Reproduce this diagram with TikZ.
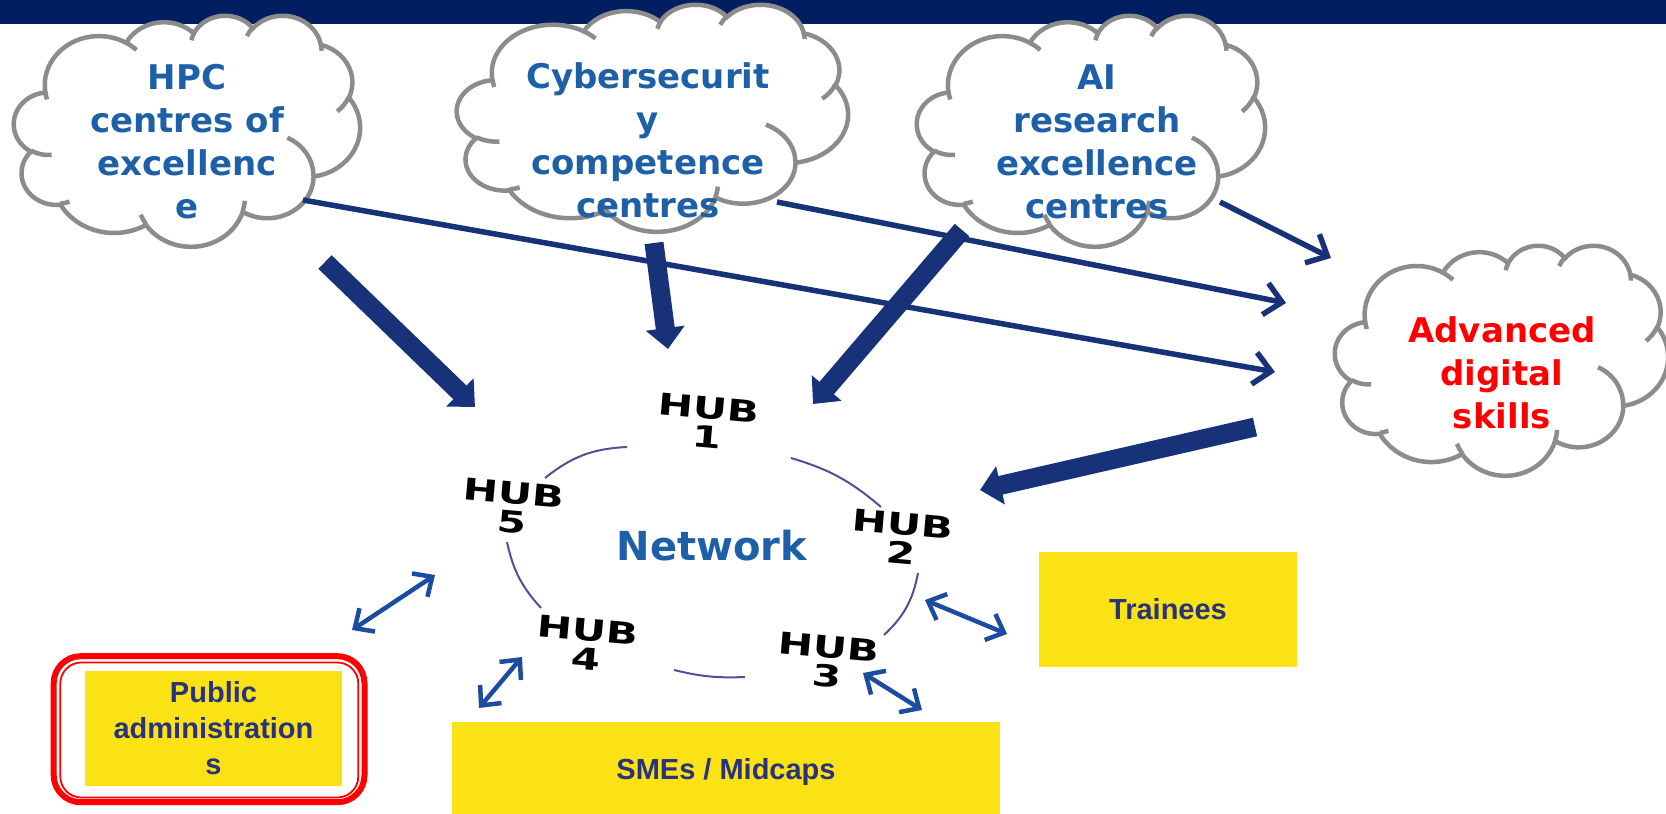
\documentclass[tikz,border=0pt]{standalone}
\usepackage{fontspec}
\usetikzlibrary{arrows.meta}
\setmainfont{DejaVu Sans}
\newfontfamily\cloudfont{DejaVu Sans}
\newfontfamily\hubfont[FakeStretch=1.4]{DejaVu Sans}
\newfontfamily\boxfont{Liberation Sans}
\definecolor{barnavy}{RGB}{0,30,96}
\definecolor{arrnavy}{RGB}{24,50,122}
\definecolor{dblue}{RGB}{28,76,160}
\definecolor{txtblue}{RGB}{30,96,168}
\definecolor{cloudgray}{RGB}{140,140,140}
\definecolor{ringc}{RGB}{80,80,150}
\definecolor{boxyellow}{RGB}{250,226,20}
\definecolor{boxtext}{RGB}{40,50,125}
\newcommand\oarc[4]{ arc[x radius=#1, y radius=#2, start angle={atan2((#1)*sin(#3),(#2)*cos(#3))}, delta angle={mod(atan2((#1)*sin((#3)+(#4)),(#2)*cos((#3)+(#4)))-atan2((#1)*sin(#3),(#2)*cos(#3))+720,360)}]}
\tikzset{
  cloudline/.style={draw=cloudgray, line width=4.5pt, fill=white},
  cloudtext/.style={text=txtblue, font=\cloudfont\bfseries\fontsize{34}{43}\selectfont, align=center, inner sep=0pt},
  hub/.style={font=\hubfont\bfseries\fontsize{30}{29}\selectfont, align=center, inner sep=0pt, rotate=-5},
  bigarrow/.style={draw=arrnavy, line width=19pt, -{Triangle[length=21pt,width=38pt]}},
  thinarrow/.style={draw=arrnavy, line width=5.5pt, -{Straight Barb[length=17pt,width=32pt]}},
  dblarrow/.style={draw=dblue, line width=4.5pt, {Straight Barb[length=15pt,width=28pt]}-{Straight Barb[length=15pt,width=28pt]}},
  ring/.style={draw=ringc, line width=2pt},
  ybox/.style={fill=boxyellow, text=boxtext, font=\boxfont\bfseries\fontsize{29}{36}\selectfont, align=center, inner sep=0pt}
}
\newcommand\drawcloud[4]{%
  \begin{scope}[shift={(#1,#2)}, xscale=#3/432, yscale=#4/432]
    \path[cloudline] (39,143.7)
      \oarc{67.53}{91.90}{-190.48748}{123.78053}
      \oarc{53.33}{72.67}{-144.10238}{89.94523}
      \oarc{43.65}{59.45}{-145.80792}{99.72302}
      \oarc{48.57}{65.95}{-130.98607}{117.24173}
      \oarc{53.33}{72.73}{-78.70888}{109.02692}
      \oarc{67.75}{92.20}{-46.26725}{130.26900}
      \oarc{57.85}{78.67}{0.62502}{114.03333}
      \oarc{67.52}{92.15}{22.45160}{115.17255}
      \oarc{77.20}{105.43}{66.24263}{75.71102}
      \oarc{43.60}{59.18}{-274.94208}{146.73557}
      \oarc{43.45}{59.45}{-246.82850}{152.51885}
      -- cycle;
    \path[cloudline, fill=none]
      (46.93,261.77) \oarc{43.45}{59.45}{86.742}{26.4295}
      (69.28,348.99) \oarc{43.60}{59.18}{73.6105}{11.4475}
      (164.78,390.90) \oarc{67.52}{92.15}{137.6242}{14.0811}
      (288.27,347.51) \oarc{67.52}{92.15}{6.4533}{15.9984}
      (341.29,229.54) \oarc{57.85}{78.67}{-70.2924}{70.9174}
      (417.98,153.54) \oarc{53.33}{72.73}{30.3180}{27.7515}
      (383.24,54.26) \oarc{48.57}{65.95}{-13.7443}{14.8589}
      (290.78,39.52) \oarc{48.57}{65.95}{-149.1815}{18.1954}
      (221.41,47.20) \oarc{43.65}{59.45}{-163.4943}{17.6864}
      (140.00,51.92) \oarc{67.53}{91.90}{-66.7070}{12.3194}
      (41.27,157.89) \oarc{67.53}{91.90}{157.6544}{11.8582};
  \end{scope}}
\begin{document}
\begin{tikzpicture}[x=1pt, y=-1pt]
\useasboundingbox (0,0) rectangle (1666,814);
\fill[white] (0,0) rectangle (1666,814);
% top bar
\fill[barnavy] (0,0) rectangle (1666,24);
% clouds
\drawcloud{14}{15}{346}{231}
\drawcloud{457}{4}{391}{227}
\drawcloud{917}{15}{348}{231}
\drawcloud{1335}{245}{333}{230}
\node[cloudtext] (hpc) at (187,142) {HPC\\centres of\\excellenc\\e};
\node[cloudtext] (cyb) at (648,140) {Cybersecurit\\y\\competence\\centres};
\node[cloudtext] (ai) at (1097,142) {AI\\research\\excellence\\centres};
\node[cloudtext, text=red] (adv) at (1502,373) {Advanced\\digital\\skills};
% hubs
\node[hub] (h1) at (708,422) {HUB\\1};
\node[hub] (h5) at (513,508) {HUB\\5};
\node[hub] (h2) at (902,538) {HUB\\2};
\node[hub] (h4) at (587,644) {HUB\\4};
\node[hub] (h3) at (828,662) {HUB\\3};
\node[text=txtblue, font=\cloudfont\bfseries\fontsize{40}{48}\selectfont, inner sep=0pt] (net) at (712,546) {Network};
% ring arcs
\coordinate (r5a) at (545,478); \coordinate (r1a) at (627,447);
\coordinate (r1b) at (791,458); \coordinate (r2a) at (881,507);
\coordinate (r2b) at (918,573); \coordinate (r3a) at (884,635);
\coordinate (r3b) at (745,677); \coordinate (r4a) at (674,670);
\coordinate (r4b) at (541,608); \coordinate (r5b) at (507,542);
\draw[ring] (r5a) to[bend left=18] (r1a);
\draw[ring] (r1b) to[bend left=12] (r2a);
\draw[ring] (r2b) to[bend left=18] (r3a);
\draw[ring] (r3b) to[bend left=8] (r4a);
\draw[ring] (r4b) to[bend left=15] (r5b);
% boxes
\node[ybox, minimum width=257pt, minimum height=115pt] (pub) at (213.5,728.5) {Public\\administration\\s};
\node[ybox, minimum width=258pt, minimum height=115pt] (trn) at (1168,609.5) {Trainees};
\node[ybox, minimum width=548pt, minimum height=100pt] (sme) at (726,772) {SMEs / Midcaps};
\draw[red, line width=6pt, rounded corners=27pt] (53.7,656.2) rectangle (364.5,802.2);
\draw[red, line width=1.8pt, rounded corners=21pt] (60.3,662.5) rectangle (358.3,797.5);
% thin long arrows
\coordinate (hpcR) at (303,200); \coordinate (advL1) at (1275,372);
\coordinate (cybR) at (777,202); \coordinate (advL2) at (1286,303);
\coordinate (aiR) at (1220,202); \coordinate (advT) at (1331,258);
\draw[thinarrow] (hpcR) -- (advL1);
\draw[thinarrow] (cybR) -- (advL2);
\draw[thinarrow] (aiR) -- (advT);
% big arrows
\coordinate (hpcB) at (325,262); \coordinate (hubNW) at (475,407);
\coordinate (cybB) at (654,243); \coordinate (hubN) at (668,349);
\coordinate (aiB) at (962,230); \coordinate (hubNE) at (813,404);
\coordinate (advB) at (1255,427); \coordinate (hubE) at (980,490);
\draw[bigarrow] (hpcB) -- (hubNW);
\draw[bigarrow] (cybB) -- (hubN);
\draw[bigarrow] (aiB) -- (hubNE);
\draw[bigarrow] (advB) -- (hubE);
% double arrows
\coordinate (pubA) at (352,630); \coordinate (pubB) at (435,575);
\coordinate (h4A) at (479,708); \coordinate (h4B) at (522,657);
\coordinate (h3A) at (863,673); \coordinate (h3B) at (922,710);
\coordinate (h2A) at (925,600); \coordinate (h2B) at (1007,634);
\draw[dblarrow] (pubA) -- (pubB);
\draw[dblarrow] (h4A) -- (h4B);
\draw[dblarrow] (h3A) -- (h3B);
\draw[dblarrow] (h2A) -- (h2B);
\end{tikzpicture}
\end{document}
